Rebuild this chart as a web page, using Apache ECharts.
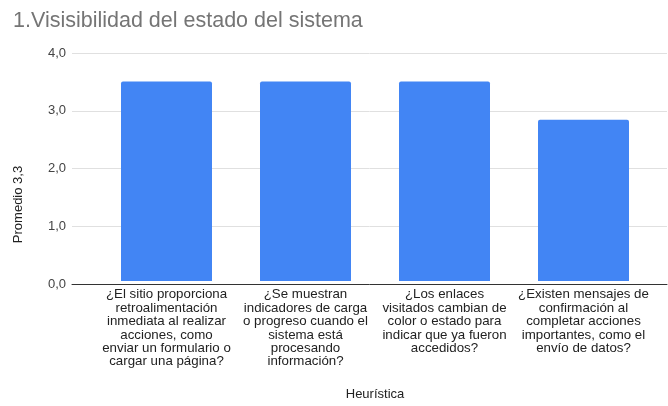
<!DOCTYPE html>
<html>
<head>
<meta charset="utf-8">
<script src="https://cdn.jsdelivr.net/npm/echarts@6/dist/echarts.min.js"></script>
<style>
  html, body { margin: 0; padding: 0; background: #fff; }
  #main { width: 668px; height: 406px; }
</style>
</head>
<body>
<div id="main"></div>
<script>
// datos del gráfico
const titulo = '1.Visisibilidad del estado del sistema'
const preguntas = [
    '¿El sitio proporciona\nretroalimentación\ninmediata al realizar\nacciones, como\nenviar un formulario o\ncargar una página?',
    '¿Se muestran\nindicadores de carga\no progreso cuando el\nsistema está\nprocesando\ninformación?',
    '¿Los enlaces\nvisitados cambian de\ncolor o estado para\nindicar que ya fueron\naccedidos?',
    '¿Existen mensajes de\nconfirmación al\ncompletar acciones\nimportantes, como el\nenvío de datos?'
]
const promedios = [3.5, 3.5, 3.5, 2.83]
const yMin = 0
const yMax = 4
const yPaso = 1

const fuente = 'Arial, "Liberation Sans", sans-serif'
const myChart = echarts.init(document.getElementById('main'))
const option = {
    animation: false,
    title: {
        text: titulo,
        left: 8,
        top: 5,
        textStyle: { fontFamily: fuente, fontSize: 21.5, fontWeight: 'normal', color: '#757575' }
    },
    grid: [
        { left: 72, right: 1, top: 53, bottom: 122 },
        { left: 97, right: 15, top: 53, bottom: 122 }
    ],
    xAxis: [
        {
            gridIndex: 0,
            type: 'category',
            data: [],
            axisLine: { show: true, lineStyle: { color: '#333', width: 1 } },
            axisTick: { show: false },
            axisLabel: { show: false }
        },
        {
            gridIndex: 1,
            type: 'category',
            data: preguntas,
            name: 'Heurística',
            nameLocation: 'middle',
            nameGap: 107,
            nameTextStyle: { fontFamily: fuente, fontSize: 13, color: '#222' },
            axisLine: { show: false },
            axisTick: { show: false },
            axisLabel: {
                interval: 0,
                margin: 7,
                fontFamily: fuente,
                fontSize: 13.3,
                lineHeight: 13.4,
                color: '#222',
                align: 'center'
            }
        }
    ],
    yAxis: [
        {
            gridIndex: 0,
            type: 'value',
            min: yMin,
            max: yMax,
            interval: yPaso,
            name: 'Promedio 3,3',
            nameLocation: 'middle',
            nameGap: 47,
            nameTextStyle: { fontFamily: fuente, fontSize: 13, color: '#222', padding: [0, 72, 0, 0] },
            axisLine: { show: false },
            axisTick: { show: false },
            axisLabel: {
                margin: 6,
                fontFamily: fuente,
                fontSize: 13,
                color: '#444',
                formatter: v => v.toFixed(1).replace('.', ',')
            },
            splitLine: { lineStyle: { color: '#e0e0e0', width: 1 } }
        },
        {
            gridIndex: 1,
            type: 'value',
            min: yMin,
            max: yMax,
            interval: yPaso,
            show: false,
            splitLine: { show: false }
        }
    ],
    series: [
        {
            type: 'bar',
            xAxisIndex: 1,
            yAxisIndex: 1,
            data: promedios,
            barWidth: 91,
            itemStyle: { color: '#4285F4', borderRadius: [2, 2, 0, 0] }
        }
    ]
}
myChart.setOption(option)
</script>
</body>
</html>
